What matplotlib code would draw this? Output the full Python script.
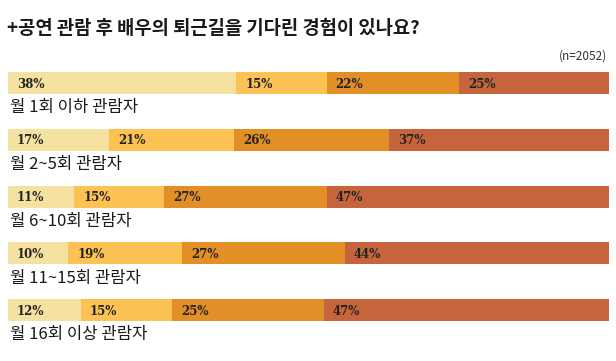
import numpy as np
import matplotlib.pyplot as plt

title = '+공연 관람 후 배우의 퇴근길을 기다린 경험이 있나요?'
note = '(n=2052)'
groups = ['월 1회 이하 관람자', '월 2~5회 관람자', '월 6~10회 관람자',
          '월 11~15회 관람자', '월 16회 이상 관람자']
# four answer segments per group, in %
seg1 = [38, 17, 11, 10, 12]
seg2 = [15, 21, 15, 19, 15]
seg3 = [22, 26, 27, 27, 25]
seg4 = [25, 37, 47, 44, 47]
colors = ['#F5E1A0', '#FCC253', '#E38F27', '#C6653C']

W, H = 616, 361
fig = plt.figure(figsize=(W / 100, H / 100), dpi=100)
kr = ['Noto Sans CJK KR', 'DejaVu Sans']

fig.text(7 / W, 1 - 29 / H, title, family=kr, fontsize=13.5, fontweight='heavy',
         color='#1a1a1a', va='center', ha='left')
fig.text(607 / W, 1 - 56 / H, note, family=kr, fontsize=8.5, color='#333333',
         va='center', ha='right')

# bars region: centres at 83px (row 0) to 310px (row 4)
step = (310 - 83) / 4
top = 83 - step / 2
bot = 310 + step / 2
ax = fig.add_axes([8 / W, (H - bot) / H, 601 / W, (bot - top) / H])
ax.set_xlim(0, 1)
ax.set_ylim(4.5, -0.5)
ax.axis('off')

data = np.array([seg1, seg2, seg3, seg4], dtype=float)
frac = data / data.sum(axis=0)
y = np.arange(len(groups))
left = np.zeros(len(groups))
bh = 22 / step
for k in range(4):
    ax.barh(y, frac[k], left=left, height=bh, color=colors[k], linewidth=0)
    for i in range(len(groups)):
        ax.text(left[i] + 0.015, y[i] + 0.02, f'{int(data[k, i])}%',
                family='DejaVu Serif', fontweight='bold', fontsize=8.5,
                color='#222222', va='center', ha='left')
    left += frac[k]

for i, g in enumerate(groups):
    ax.text(0.003, y[i] + 0.44, g, family=kr, fontsize=12, color='#1a1a1a',
            va='center', ha='left')

fig.savefig('out.png', dpi=100)
